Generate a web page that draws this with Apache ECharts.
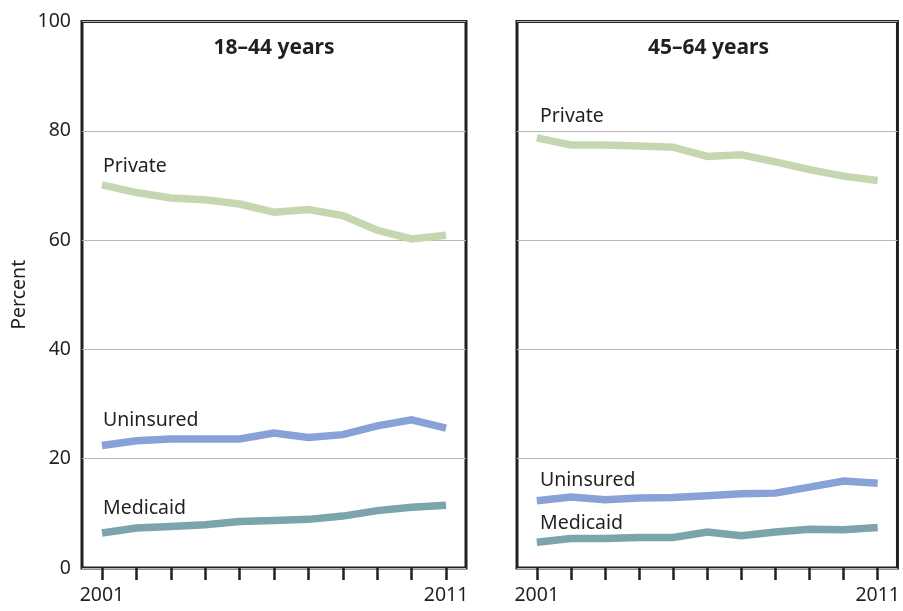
<!DOCTYPE html>
<html>
<head>
<meta charset="utf-8">
<script src="https://cdn.jsdelivr.net/npm/echarts@6/dist/echarts.min.js"></script>
<style>html,body{margin:0;padding:0;background:#fff}#c{width:903px;height:611px}</style>
</head>
<body>
<div id="c"></div>
<script>
const years = [2001,2002,2003,2004,2005,2006,2007,2008,2009,2010,2011];
const yTicks = [0,20,40,60,80,100];
const xLabelYears = [2001, 2011];
const panelTitles = ['18\u201344 years', '45\u201364 years'];
const seriesNames = ['Private', 'Uninsured', 'Medicaid'];

const private1844   = [70.1,68.7,67.7,67.4,66.6,65.1,65.6,64.5,61.8,60.2,60.9];
const uninsured1844 = [22.4,23.3,23.6,23.6,23.6,24.7,23.9,24.4,26.0,27.1,25.6];
const medicaid1844  = [6.4,7.3,7.6,7.9,8.5,8.7,8.9,9.5,10.5,11.1,11.5];

const private4564   = [78.7,77.4,77.4,77.2,77.0,75.3,75.6,74.3,72.9,71.7,70.9];
const uninsured4564 = [12.3,13.0,12.5,12.8,12.9,13.2,13.6,13.7,14.8,15.9,15.5];
const medicaid4564  = [4.7,5.4,5.4,5.6,5.6,6.6,5.9,6.6,7.1,7.0,7.4];

const colors = {Private:'#c5d7b1', Uninsured:'#88a1d6', Medicaid:'#7ba4ac'};
const FONT = 'Noto Sans';
const dark = '#231f20';
const FS = 19.5;

function pairs(vals){ return years.map((y,i)=>[y, vals[i]]); }

const grids = [
  {left:82, top:21.5, width:384, height:546.5, show:true, borderColor:dark, borderWidth:3, backgroundColor:'transparent'},
  {left:517, top:21.5, width:383, height:546.5, show:true, borderColor:dark, borderWidth:3, backgroundColor:'transparent'}
];

function xAxis(gi){
  return {
    type:'value', gridIndex:gi, min:2000.42, max:2011.58,
    axisLine:{show:false},
    splitLine:{show:false},
    axisTick:{show:true, length:12, lineStyle:{color:dark, width:2.5}, customValues:years},
    axisLabel:{show:true, customValues:xLabelYears, margin:17, fontSize:FS, color:dark, fontFamily:FONT, formatter:v=>String(v)}
  };
}
function yAxis(gi){
  return {
    type:'value', gridIndex:gi, min:0, max:100, interval:20,
    name: gi===0 ? 'Percent' : '',
    nameLocation:'middle', nameGap:53, nameRotate:90,
    nameTextStyle:{fontSize:FS, color:dark, fontFamily:FONT},
    axisLine:{show:false}, axisTick:{show:false},
    splitLine:{show:true, lineStyle:{color:'#b8b8b8', width:1}},
    axisLabel:{show: gi===0, fontSize:FS, color:dark, fontFamily:FONT, margin:11}
  };
}

function line(name, gi, vals){
  return {
    type:'line', name, xAxisIndex:gi, yAxisIndex:gi, data:pairs(vals),
    symbol:'none', lineStyle:{color:colors[name], width:7.5, cap:'butt', join:'miter'},
    silent:true, animation:false, z:3
  };
}

const labelStyle = {fontSize:FS, fill:dark, fontFamily:FONT};
const graphics = [
  {type:'text', x:274, y:48, style:{text:panelTitles[0], fontSize:21, fontWeight:'bold', fill:dark, fontFamily:FONT, align:'center', verticalAlign:'middle'}},
  {type:'text', x:708.5, y:48, style:{text:panelTitles[1], fontSize:21, fontWeight:'bold', fill:dark, fontFamily:FONT, align:'center', verticalAlign:'middle'}},
  {type:'text', x:103, y:166, style:Object.assign({text:seriesNames[0], verticalAlign:'middle'}, labelStyle)},
  {type:'text', x:103, y:420, style:Object.assign({text:seriesNames[1], verticalAlign:'middle'}, labelStyle)},
  {type:'text', x:103, y:508, style:Object.assign({text:seriesNames[2], verticalAlign:'middle'}, labelStyle)},
  {type:'text', x:540, y:116, style:Object.assign({text:seriesNames[0], verticalAlign:'middle'}, labelStyle)},
  {type:'text', x:540, y:480, style:Object.assign({text:seriesNames[1], verticalAlign:'middle'}, labelStyle)},
  {type:'text', x:540, y:523, style:Object.assign({text:seriesNames[2], verticalAlign:'middle'}, labelStyle)}
];

const chart = echarts.init(document.getElementById('c'), null, {renderer:'canvas'});
chart.setOption({
  animation:false,
  backgroundColor:'#fff',
  grid: grids,
  xAxis: [xAxis(0), xAxis(1)],
  yAxis: [yAxis(0), yAxis(1)],
  series: [
    line('Private',0,private1844), line('Uninsured',0,uninsured1844), line('Medicaid',0,medicaid1844),
    line('Private',1,private4564), line('Uninsured',1,uninsured4564), line('Medicaid',1,medicaid4564)
  ],
  graphic: graphics
});
</script>
</body>
</html>
